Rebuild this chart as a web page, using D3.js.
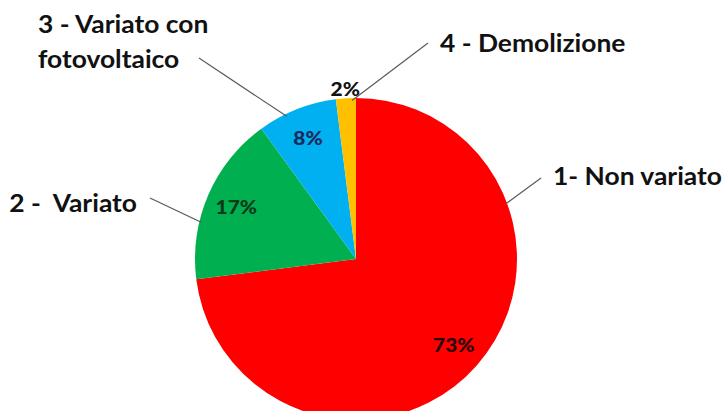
<!DOCTYPE html>
<html>
<head>
<meta charset="utf-8">
<script src="https://cdn.jsdelivr.net/npm/d3@7"></script>
<style>
  html, body { margin: 0; padding: 0; background: #ffffff; }
  svg { display: block; }
  text { white-space: pre; }
</style>
</head>
<body>
<svg id="chart" width="726" height="411"></svg>
<script>
// Categories and shares (%)
const categories = ["1- Non variato", "2 -  Variato", "3 - Variato con fotovoltaico", "4 - Demolizione"];
const values = [73, 17, 8, 2];
const valueLabels = ["73%", "17%", "8%", "2%"];
const sliceColors = ["#ff0000", "#00b050", "#00b0f0", "#ffc000"];
const valueLabelColors = ["#2a0a0a", "#0b3a17", "#1b2a5c", "#111111"];

// Category label placement: text lines, anchor, and where the leader meets the slice
const labelLayout = [
  { lines: ["1- Non variato"], x: 553, y: 185, anchor: "start", lx: 541, ly: 178, frac: 0.266 },
  { lines: ["2 -  Variato"], x: 137, y: 212, anchor: "end", lx: 150, ly: 198, frac: 0.335 },
  { lines: ["3 - Variato con", "fotovoltaico"], x: 38, y: 33, anchor: "start", lx: 199, ly: 58, frac: 0.35 },
  { lines: ["4 - Demolizione"], x: 440, y: 52, anchor: "start", lx: 428, ly: 43, frac: 0.8 }
];

const FONT = "Lato, 'Open Sans', sans-serif";
const STRETCH = 1.1; // slightly wide lettering

const svg = d3.select("#chart");
const cx = 356, cy = 259, radius = 161;

const pie = d3.pie().value(d => d).sort(null);
const arcs = pie(values);
const arc = d3.arc().innerRadius(0).outerRadius(radius);

const g = svg.append("g").attr("transform", `translate(${cx},${cy})`);

g.selectAll("path.slice")
  .data(arcs)
  .join("path")
  .attr("class", "slice")
  .attr("d", arc)
  .attr("fill", (d, i) => sliceColors[i]);

// Percentage labels: inside for large slices, just outside for tiny ones
const inner = d3.arc().innerRadius(radius * 0.81).outerRadius(radius * 0.81);
const outer = d3.arc().innerRadius(radius * 1.06).outerRadius(radius * 1.06);
g.selectAll("text.pct")
  .data(arcs)
  .join("text")
  .attr("class", "pct")
  .attr("transform", d => {
    const small = (d.endAngle - d.startAngle) < 0.2;
    const [x, y] = (small ? outer : inner).centroid(d);
    return `translate(${x},${y}) scale(${STRETCH},1)`;
  })
  .attr("text-anchor", "middle")
  .attr("dy", "0.36em")
  .attr("font-family", FONT)
  .attr("font-weight", 900)
  .attr("font-size", 19)
  .attr("fill", (d, i) => valueLabelColors[i])
  .text((d, i) => valueLabels[i]);

// Leader lines from category labels to the slice edge
arcs.forEach((d, i) => {
  const L = labelLayout[i];
  const a = d.startAngle + (d.endAngle - d.startAngle) * L.frac;
  const ex = cx + Math.sin(a) * radius * 0.985;
  const ey = cy - Math.cos(a) * radius * 0.985;
  svg.append("line")
    .attr("x1", L.lx).attr("y1", L.ly)
    .attr("x2", ex).attr("y2", ey)
    .attr("stroke", "#5a5a5a")
    .attr("stroke-width", 1.2);

  const t = svg.append("text")
    .attr("transform", `translate(${L.x},${L.y}) scale(${STRETCH},1)`)
    .attr("text-anchor", L.anchor)
    .attr("font-family", FONT)
    .attr("font-weight", "bold")
    .attr("font-size", 24)
    .attr("fill", "#111111");
  L.lines.forEach((line, k) => {
    t.append("tspan")
      .attr("x", 0)
      .attr("y", k * 35)
      .text(line);
  });
});
</script>
</body>
</html>
